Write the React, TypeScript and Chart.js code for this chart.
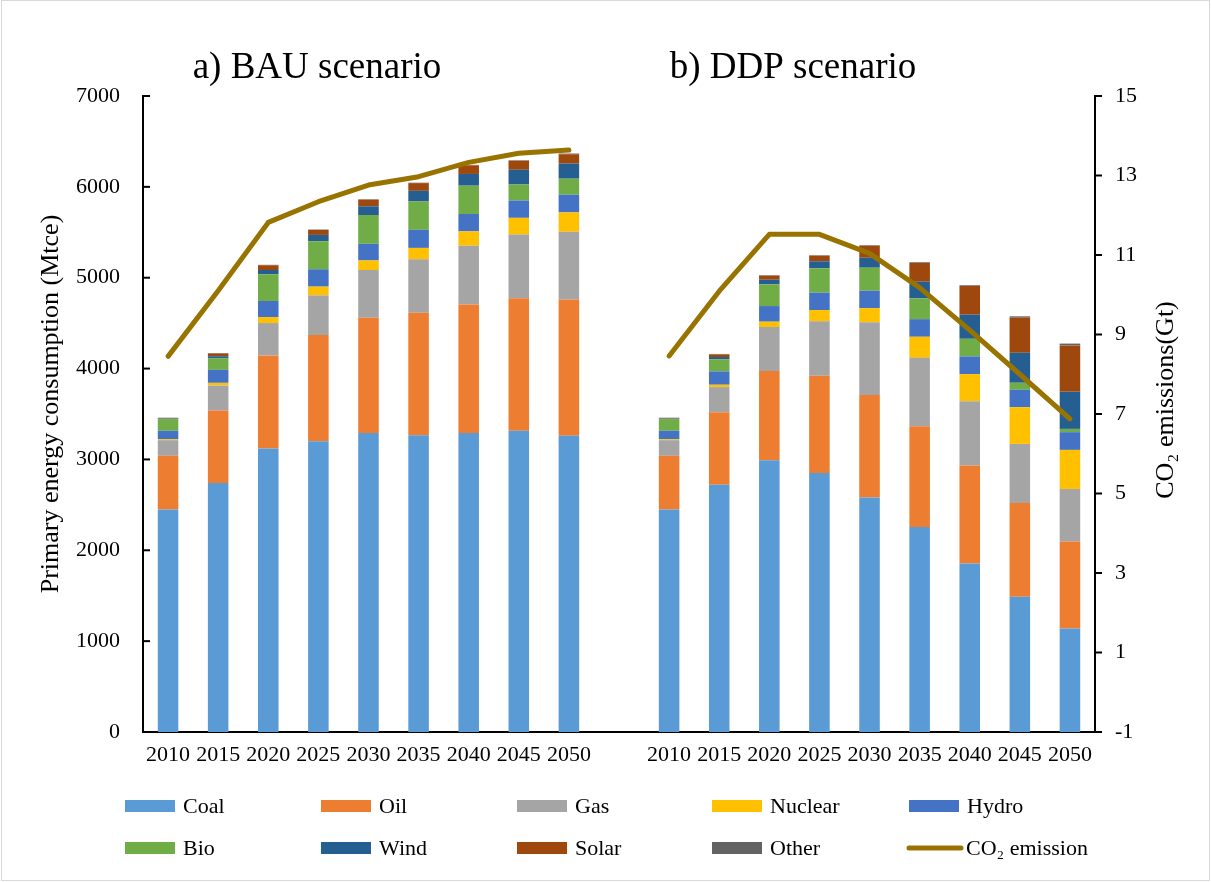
import React, { useEffect, useRef } from 'react';
import { Chart, registerables } from 'chart.js';

Chart.register(...registerables);

const years = ['2010', '2015', '2020', '2025', '2030', '2035', '2040', '2045', '2050'];
const categories = [...years, '', ...years];

const coalBAU = [2450, 2740, 3120, 3200, 3290, 3265, 3290, 3315, 3260];
const coalDDP = [2450, 2720, 2990, 2850, 2580, 2255, 1855, 1488, 1140];
const oilBAU = [590, 798, 1025, 1169, 1268, 1350, 1415, 1460, 1500];
const oilDDP = [590, 800, 982, 1070, 1130, 1110, 1077, 1032, 958];
const gasBAU = [172, 275, 356, 437, 526, 588, 647, 700, 746];
const gasDDP = [172, 276, 485, 600, 800, 753, 709, 651, 577];
const nuclearBAU = [11, 30, 66, 96, 106, 125, 158, 184, 213];
const nuclearDDP = [11, 26, 59, 124, 155, 232, 298, 404, 430];
const hydroBAU = [93, 143, 177, 191, 184, 199, 191, 191, 195];
const hydroDDP = [93, 147, 172, 192, 192, 194, 195, 192, 195];
const bioBAU = [128, 128, 294, 309, 316, 312, 312, 176, 176];
const bioDDP = [128, 132, 239, 268, 253, 228, 194, 77, 36];
const windBAU = [5, 22, 47, 69, 96, 117, 129, 162, 166];
const windDDP = [5, 26, 51, 77, 110, 184, 265, 330, 408];
const solarBAU = [5, 30, 52, 54, 73, 85, 95, 100, 103];
const solarDDP = [5, 29, 45, 62, 133, 206, 316, 386, 511];
const otherBAU = [5, 5, 5, 5, 5, 5, 5, 5, 8];
const otherDDP = [5, 5, 5, 5, 5, 8, 8, 15, 20];
const co2BAU = [8.45, 10.1, 11.82, 12.34, 12.76, 12.97, 13.33, 13.56, 13.64];
const co2DDP = [8.46, 10.09, 11.52, 11.52, 11.04, 10.18, 9.11, 8.0, 6.88];

const leftTicks = [0, 1000, 2000, 3000, 4000, 5000, 6000, 7000];
const rightTicks = [-1, 1, 3, 5, 7, 9, 11, 13, 15];

const join = (a: number[], b: number[]) => [...a, null, ...b];

const FONT = '"Liberation Serif", "Times New Roman", serif';

const barSeries = [
  { label: 'Coal', bau: coalBAU, ddp: coalDDP, color: '#5B9BD5' },
  { label: 'Oil', bau: oilBAU, ddp: oilDDP, color: '#ED7D31' },
  { label: 'Gas', bau: gasBAU, ddp: gasDDP, color: '#A5A5A5' },
  { label: 'Nuclear', bau: nuclearBAU, ddp: nuclearDDP, color: '#FFC000' },
  { label: 'Hydro', bau: hydroBAU, ddp: hydroDDP, color: '#4472C4' },
  { label: 'Bio', bau: bioBAU, ddp: bioDDP, color: '#70AD47' },
  { label: 'Wind', bau: windBAU, ddp: windDDP, color: '#255E91' },
  { label: 'Solar', bau: solarBAU, ddp: solarDDP, color: '#9E480E' },
  { label: 'Other', bau: otherBAU, ddp: otherDDP, color: '#636363' },
];
const lineColor = '#997300';

export default function App() {
  const ref = useRef<HTMLCanvasElement>(null);

  useEffect(() => {
    document.body.style.margin = '0';
    const canvas = ref.current!;

    const overlay = {
      id: 'overlay',
      afterDraw(chart: any) {
        const { ctx, chartArea, scales } = chart;
        ctx.save();
        ctx.strokeStyle = '#D9D9D9';
        ctx.lineWidth = 1;
        ctx.strokeRect(1.5, 0.5, 1208, 880);

        ctx.strokeStyle = '#000';
        ctx.lineWidth = 2;
        leftTicks.forEach((v) => {
          const y = scales.y.getPixelForValue(v);
          ctx.beginPath();
          ctx.moveTo(chartArea.left, y);
          ctx.lineTo(chartArea.left + 7, y);
          ctx.stroke();
        });
        rightTicks.forEach((v) => {
          const y = scales.y2.getPixelForValue(v);
          ctx.beginPath();
          ctx.moveTo(chartArea.right, y);
          ctx.lineTo(chartArea.right + 7, y);
          ctx.stroke();
        });

        ctx.fillStyle = '#000';
        ctx.font = `37px ${FONT}`;
        ctx.textAlign = 'center';
        ctx.textBaseline = 'alphabetic';
        ctx.fillText('a) BAU scenario', 317, 78);
        ctx.fillText('b) DDP scenario', 793, 78);

        ctx.font = `26px ${FONT}`;
        ctx.textBaseline = 'middle';
        ctx.save();
        ctx.translate(51, 404);
        ctx.rotate(-Math.PI / 2);
        ctx.fillText('Primary energy consumption (Mtce)', 0, 0);
        ctx.restore();
        ctx.save();
        ctx.translate(1166, 400);
        ctx.rotate(-Math.PI / 2);
        ctx.fillText('CO\u2082 emissions(Gt)', 0, 0);
        ctx.restore();

        const cols = [125, 321, 517, 712, 909];
        const rows = [806, 848];
        ctx.font = `22px ${FONT}`;
        ctx.textAlign = 'left';
        ctx.textBaseline = 'middle';
        barSeries.forEach((s, i) => {
          const x = cols[i % 5];
          const y = rows[Math.floor(i / 5)];
          ctx.fillStyle = s.color;
          ctx.fillRect(x, y - 6, 50, 12);
          ctx.fillStyle = '#000';
          ctx.fillText(s.label, x + 58, y + 1);
        });
        const lx = cols[4];
        const ly = rows[1];
        ctx.strokeStyle = lineColor;
        ctx.lineWidth = 5;
        ctx.lineCap = 'round';
        ctx.beginPath();
        ctx.moveTo(lx, ly);
        ctx.lineTo(lx + 52, ly);
        ctx.stroke();
        ctx.fillStyle = '#000';
        ctx.fillText('CO\u2082 emission', lx + 57, ly + 1);
        ctx.restore();
      },
    };

    const datasets: any[] = barSeries.map((s) => ({
      type: 'bar',
      label: s.label,
      data: join(s.bau, s.ddp),
      backgroundColor: s.color,
      borderWidth: 0,
      yAxisID: 'y',
      order: 2,
      barPercentage: 0.41,
      categoryPercentage: 1,
    }));
    datasets.push({
      type: 'line',
      label: 'CO\u2082 emission',
      data: join(co2BAU, co2DDP),
      borderColor: lineColor,
      backgroundColor: lineColor,
      borderWidth: 5,
      pointRadius: 0,
      borderCapStyle: 'round',
      borderJoinStyle: 'round',
      tension: 0,
      spanGaps: false,
      yAxisID: 'y2',
      order: 1,
    });

    const tickFont = { family: FONT, size: 22 };

    const chart = new Chart(canvas, {
      type: 'bar',
      data: { labels: categories, datasets },
      options: {
        responsive: false,
        animation: false,
        devicePixelRatio: 1,
        layout: { padding: { top: 96, left: 0, right: 0, bottom: 0 } },
        plugins: {
          legend: { display: false },
          tooltip: { enabled: false },
          title: { display: false },
        },
        scales: {
          x: {
            stacked: true,
            grid: { display: false, drawTicks: false },
            border: { display: true, color: '#000', width: 2 },
            ticks: {
              color: '#000',
              font: tickFont,
              padding: 10,
              maxRotation: 0,
              autoSkip: false,
            },
            afterFit: (s: any) => {
              s.height = 150;
            },
          },
          y: {
            type: 'linear',
            position: 'left',
            stacked: true,
            min: 0,
            max: 7000,
            grid: { display: false, drawTicks: false },
            border: { display: true, color: '#000', width: 2 },
            ticks: {
              stepSize: 1000,
              color: '#000',
              font: tickFont,
              padding: 23,
              callback: (v: any) => String(v),
            },
            afterFit: (s: any) => {
              s.width = 143;
            },
          },
          y2: {
            type: 'linear',
            position: 'right',
            min: -1,
            max: 15,
            grid: { display: false, drawTicks: false },
            border: { display: true, color: '#000', width: 2 },
            ticks: {
              stepSize: 2,
              color: '#000',
              font: tickFont,
              padding: 20,
              callback: (v: any) => String(v),
            },
            afterFit: (s: any) => {
              s.width = 117;
            },
          },
        },
      } as any,
      plugins: [overlay],
    });

    return () => chart.destroy();
  }, []);

  return <canvas ref={ref} width={1212} height={882} style={{ display: 'block' }} />;
}
